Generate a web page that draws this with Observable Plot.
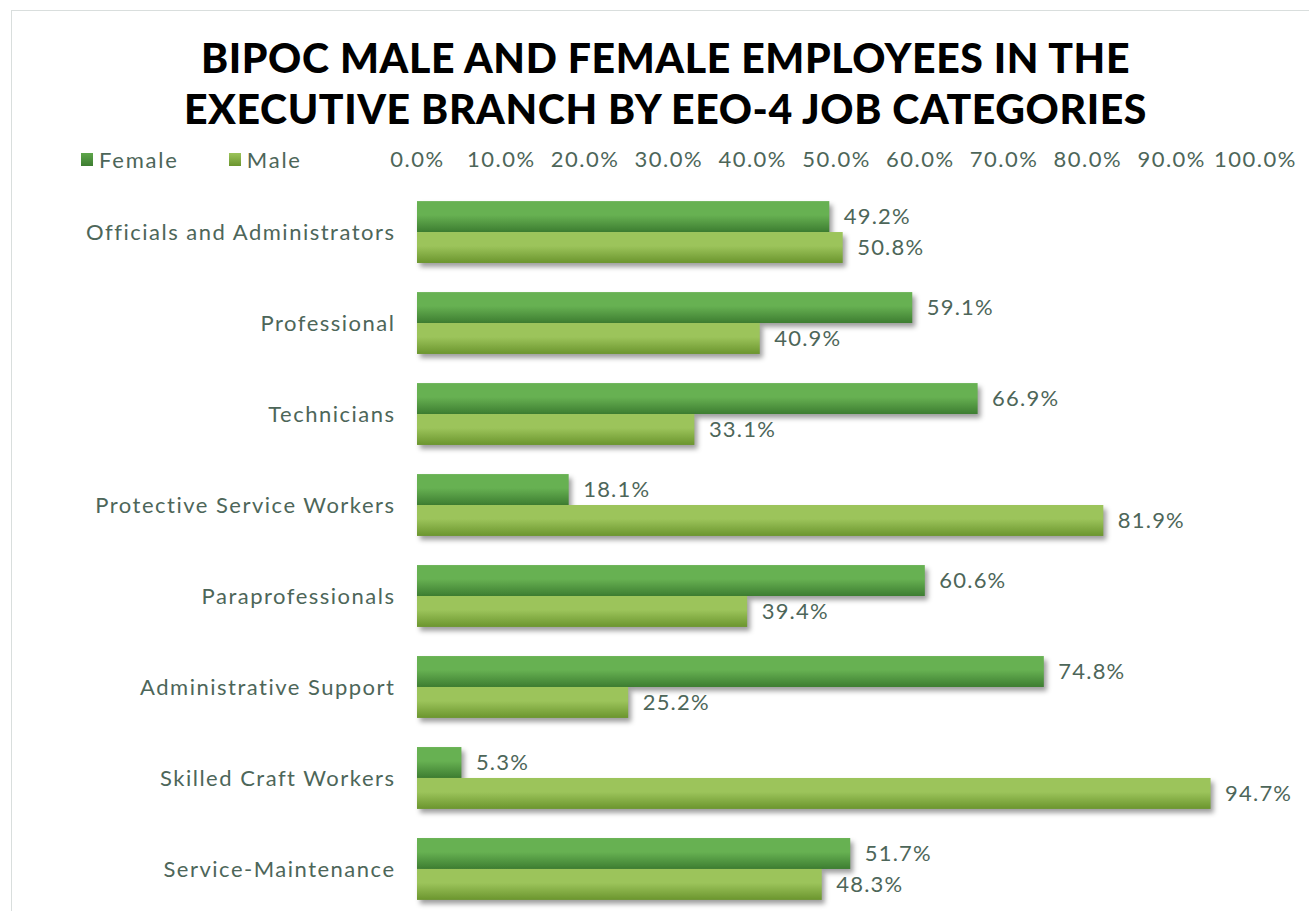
<!DOCTYPE html>
<html>
<head>
<meta charset="utf-8">
<script src="https://cdn.jsdelivr.net/npm/d3@7"></script>
<script src="https://cdn.jsdelivr.net/npm/@observablehq/plot@0.6"></script>
<style>
  html, body { margin: 0; padding: 0; background: #fff; }
  #wrap { position: relative; width: 1309px; height: 911px; overflow: hidden; font-family: Lato, "Open Sans", sans-serif; }
  #frame { position: absolute; left: 11px; top: 10px; width: 1300px; height: 910px; border: 1.5px solid #d9dedd; box-sizing: border-box; }
  #title { position: absolute; left: 0; width: 1331px; top: 32px; text-align: center; font-family: Lato, sans-serif; font-weight: 900; font-size: 41px; line-height: 51px; color: #000; letter-spacing: 0.6px; }
  #legend { position: absolute; left: 81px; top: 146px; font-size: 22px; color: #4d6659; display: flex; letter-spacing: 1.8px; }
  .item { display: flex; align-items: center; margin-right: 50px; }
  .sw { width: 12px; height: 13px; margin-right: 6px; }
  #chart { position: absolute; left: 0; top: 130px; }
  #chart svg g[aria-label="bar"] { filter: drop-shadow(3px 4px 2.5px rgba(0,0,0,0.38)); }
  #chart svg g[aria-label="x-axis tick label"] text, #chart svg g[aria-label="y-axis tick label"] text { letter-spacing: 1.5px; }
  #chart svg g[aria-label="text"] text { letter-spacing: 1.2px; }
</style>
</head>
<body>
<div id="wrap">
  <div id="frame"></div>
  <div id="title">BIPOC MALE AND FEMALE EMPLOYEES IN THE<br>EXECUTIVE BRANCH BY EEO-4 JOB CATEGORIES</div>
  <div id="legend"></div>
  <div id="chart"></div>
</div>
<script>
const categories = [
  "Officials and Administrators",
  "Professional",
  "Technicians",
  "Protective Service Workers",
  "Paraprofessionals",
  "Administrative Support",
  "Skilled Craft Workers",
  "Service-Maintenance"
];
const female = [0.492, 0.591, 0.669, 0.181, 0.606, 0.748, 0.053, 0.517];
const male   = [0.508, 0.409, 0.331, 0.819, 0.394, 0.252, 0.947, 0.483];
const xTicks = [0, 0.1, 0.2, 0.3, 0.4, 0.5, 0.6, 0.7, 0.8, 0.9, 1.0];
const seriesNames = ["Female", "Male"];

const fem = categories.map((c, i) => ({cat: c, v: female[i]}));
const mal = categories.map((c, i) => ({cat: c, v: male[i]}));

const textColor = "#4d6659";
const W = 1309, H = 781;
const yRange = [62, 779];
const padIn = 0.32, padOut = 0.1;
const step = (yRange[1] - yRange[0]) / (categories.length - padIn + 2 * padOut);
const half = step * (1 - padIn) / 2;

const plot = Plot.plot({
  width: W,
  height: H,
  marginLeft: 417,
  marginRight: 54,
  marginTop: 58,
  marginBottom: 6,
  style: {fontFamily: "Lato, 'Open Sans', sans-serif", fontSize: "22px", color: textColor, background: "transparent", overflow: "visible"},
  x: {domain: [0, 1], axis: "top", ticks: xTicks, tickFormat: d3.format(".1%"), tickSize: 0, tickPadding: 22, label: null},
  y: {domain: categories, range: yRange, round: false, paddingInner: padIn, paddingOuter: padOut, tickSize: 0, tickPadding: 22, label: null},
  marks: [
    Plot.gridX(xTicks, {y1: 58, y2: 776, stroke: "#d6dedc", strokeOpacity: 1, strokeWidth: 2}),
    Plot.barX(fem, {x: "v", y: "cat", fill: "url(#gFemale)", insetBottom: half, insetTop: 0}),
    Plot.barX(mal, {x: "v", y: "cat", fill: "url(#gMale)", insetTop: half, insetBottom: 0}),
    Plot.text(fem, {x: "v", y: "cat", text: d => d3.format(".1%")(d.v), dx: 14, dy: -half / 2, textAnchor: "start", fill: textColor, fontSize: 22}),
    Plot.text(mal, {x: "v", y: "cat", text: d => d3.format(".1%")(d.v), dx: 14, dy: half / 2, textAnchor: "start", fill: textColor, fontSize: 22})
  ]
});

const ns = "http://www.w3.org/2000/svg";
const defs = document.createElementNS(ns, "defs");
function grad(id, top, bottom) {
  const g = document.createElementNS(ns, "linearGradient");
  g.setAttribute("id", id);
  g.setAttribute("x1", "0"); g.setAttribute("y1", "0");
  g.setAttribute("x2", "0"); g.setAttribute("y2", "1");
  [[0, top], [0.45, top], [1, bottom]].forEach(([o, c]) => {
    const s = document.createElementNS(ns, "stop");
    s.setAttribute("offset", o);
    s.setAttribute("stop-color", c);
    g.appendChild(s);
  });
  defs.appendChild(g);
}
grad("gFemale", "#67b152", "#3d7d31");
grad("gMale", "#9cc45b", "#6b952e");
plot.insertBefore(defs, plot.firstChild);
document.getElementById("chart").appendChild(plot);

const legendColors = {Female: ["#5ea64b", "#3d7d31"], Male: ["#9cc45b", "#6b952e"]};
const leg = document.getElementById("legend");
seriesNames.forEach(n => {
  const it = document.createElement("div");
  it.className = "item";
  const sw = document.createElement("div");
  sw.className = "sw";
  sw.style.background = `linear-gradient(${legendColors[n][0]}, ${legendColors[n][1]})`;
  const t = document.createElement("span");
  t.textContent = n;
  it.appendChild(sw); it.appendChild(t);
  leg.appendChild(it);
});
</script>
</body>
</html>
